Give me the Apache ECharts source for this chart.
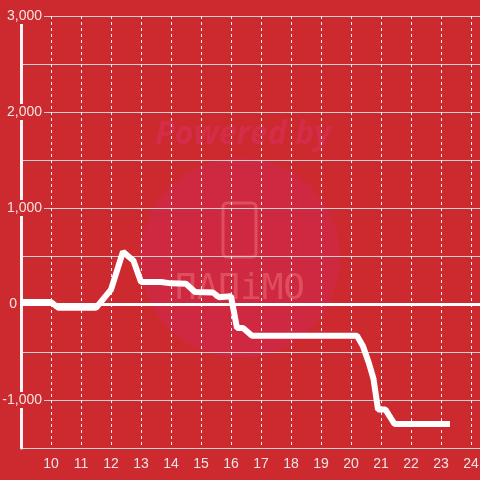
<!DOCTYPE html>
<html><head><meta charset="utf-8">
<script src="https://cdn.jsdelivr.net/npm/echarts@6/dist/echarts.min.js"></script>
<style>html,body{margin:0;padding:0;background:#cc2a2f;}#c{width:480px;height:480px;}</style>
</head><body><div id="c"></div>
<script>
const xValues = [9, 10, 10.25, 11.5, 12, 12.4, 12.75, 13, 13.67, 14.0, 14.5, 14.8, 15.4, 15.6, 16.0, 16.2, 16.4, 16.7, 20.2, 20.4, 20.6, 20.75, 20.9, 21.15, 21.45, 23.3];
const yValues = [20, 20, -40, -40, 150, 545, 450, 230, 230, 215, 210, 125, 120, 70, 80, -250, -250, -330, -330, -440, -620, -780, -1100, -1100, -1250, -1250];
const yTicks = [-1000, 0, 1000, 2000, 3000];

const chart = echarts.init(document.getElementById('c'));
const data = xValues.map((x, i) => [x, yValues[i]]);
chart.setOption({
  backgroundColor: '#cc2a2f',
  animation: false,
  graphic: [
    { type: 'circle', z: -10, shape: { cx: 240, cy: 258, r: 100 }, style: { fill: 'rgba(210,40,80,0.55)' }, silent: true },
    { type: 'text', z: -10, x: 243, y: 135, style: { text: 'Powered by', font: 'italic bold 32px "Open Sans"', fill: 'rgba(215,45,80,0.8)', align: 'center', verticalAlign: 'middle' }, silent: true },
    { type: 'rect', z: -10, shape: { x: 223, y: 203, width: 33, height: 54, r: 4 }, style: { fill: 'none', stroke: 'rgba(235,110,120,0.55)', lineWidth: 3 }, silent: true },
    { type: 'text', z: -10, x: 240, y: 290, style: { text: 'ΠΑΠiMΟ', font: '36px "DejaVu Sans Mono"', fill: 'rgba(235,110,120,0.55)', align: 'center', verticalAlign: 'middle' }, silent: true }
  ],
  grid: { left: 21, right: 0, top: 16, bottom: 32, containLabel: false, outerBoundsMode: 'none' },
  xAxis: {
    type: 'value', min: 9, max: 24.3, interval: 1,
    axisLine: { show: false }, axisTick: { show: false },
    axisLabel: { color: '#f2e4e4', fontSize: 14, fontFamily: 'Liberation Sans', margin: 9, showMinLabel: false, showMaxLabel: false },
    splitLine: { show: true, lineStyle: { color: '#f0f0f0', type: [3, 3], width: 1 } }
  },
  yAxis: {
    type: 'value', min: -1500, max: 3000, interval: 500,
    axisLine: { show: true, lineStyle: { color: '#f5f5f5', width: 3 } },
    axisTick: { show: false },
    axisLabel: {
      color: '#f2e4e4', fontSize: 14, fontFamily: 'Liberation Sans', align: 'right', margin: -23,
      formatter: v => v === 0 ? '{z|0}' : (yTicks.includes(v) ? '{a|' + v.toLocaleString('en-US') + '}' : ''),
      rich: {
        a: { color: '#f2e4e4', fontSize: 14, fontFamily: 'Liberation Sans', backgroundColor: '#cc2a2f', padding: [1, 2, 1, 2] },
        z: { color: '#f2e4e4', fontSize: 14, fontFamily: 'Liberation Sans', padding: [1, 27, 1, 0] }
      }
    },
    splitLine: { show: true, lineStyle: { color: '#d0d0d0', width: 1 } }
  },
  series: [{
    type: 'line', data: data, showSymbol: false, symbol: 'none',
    lineStyle: { color: '#ffffff', width: 6 },
    z: 3,
    markLine: {
      silent: true, symbol: 'none', label: { show: false },
      lineStyle: { color: '#ffffff', width: 3, type: 'solid' },
      data: [{ yAxis: 0 }]
    }
  }]
});
</script></body></html>
